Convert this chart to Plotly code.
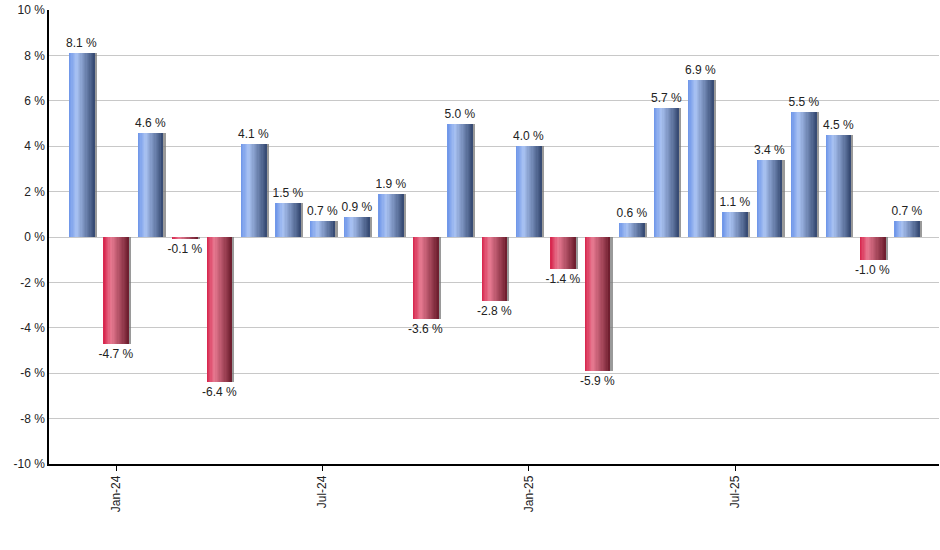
import plotly.graph_objects as go

months = ["Dec-23", "Jan-24", "Feb-24", "Mar-24", "Apr-24", "May-24", "Jun-24",
          "Jul-24", "Aug-24", "Sep-24", "Oct-24", "Nov-24", "Dec-24",
          "Jan-25", "Feb-25", "Mar-25", "Apr-25", "May-25", "Jun-25",
          "Jul-25", "Aug-25", "Sep-25", "Oct-25", "Nov-25", "Dec-25"]
returns = [8.1, -4.7, 4.6, -0.1, -6.4, 4.1, 1.5, 0.7, 0.9, 1.9, -3.6, 5.0, -2.8,
           4.0, -1.4, -5.9, 0.6, 5.7, 6.9, 1.1, 3.4, 5.5, 4.5, -1.0, 0.7]
tick_labels = ["Jan-24", "Jul-24", "Jan-25", "Jul-25"]
y_ticks = [-10, -8, -6, -4, -2, 0, 2, 4, 6, 8, 10]
y_tick_labels = ["%d %%" % v for v in y_ticks]

BAR_W = 0.74
N_STRIPS = 20

blue_stops = [(0.0, (108, 148, 232)), (0.3, (170, 195, 243)), (1.0, (52, 72, 112))]
red_stops = [(0.0, (214, 34, 74)), (0.3, (232, 122, 146)), (1.0, (108, 28, 44))]


def interp(stops, t):
    for (t0, c0), (t1, c1) in zip(stops[:-1], stops[1:]):
        if t <= t1:
            f = (t - t0) / (t1 - t0)
            return "rgb(%d,%d,%d)" % tuple(round(a + (b - a) * f) for a, b in zip(c0, c1))
    return "rgb(%d,%d,%d)" % stops[-1][1]


fig = go.Figure()

# shadow
fig.add_trace(go.Bar(
    x=months, y=returns, width=BAR_W, offset=-BAR_W / 2 + 0.07,
    marker=dict(color="rgba(120,120,120,0.75)", line=dict(width=0)),
    hoverinfo="skip", showlegend=False,
))

# gradient strips (each overlapping into the next, drawn left to right)
sw = BAR_W / N_STRIPS
for i in range(N_STRIPS):
    t = (i + 0.5) / N_STRIPS
    cb = interp(blue_stops, t)
    cr = interp(red_stops, t)
    w = sw * 2 if i < N_STRIPS - 1 else sw
    fig.add_trace(go.Bar(
        x=months, y=returns, width=w, offset=-BAR_W / 2 + i * sw,
        marker=dict(color=[cb if v >= 0 else cr for v in returns], line=dict(width=0)),
        hoverinfo="skip", showlegend=False,
    ))

# labels
fig.add_trace(go.Bar(
    x=months, y=returns, width=BAR_W, offset=-BAR_W / 2,
    marker=dict(color="rgba(0,0,0,0)", line=dict(width=0)),
    text=["%.1f %%" % v for v in returns], textposition="outside",
    constraintext="none",
    textfont=dict(family="Liberation Sans, Arial, sans-serif", size=12, color="#222222"),
    cliponaxis=False, showlegend=False, hoverinfo="skip",
))

fig.update_layout(
    width=940, height=550,
    margin=dict(l=49, r=1, t=10, b=86),
    barmode="overlay", bargap=0,
    plot_bgcolor="white", paper_bgcolor="white",
    font=dict(family="Liberation Sans, Arial, sans-serif", size=12, color="#222222"),
)
fig.update_xaxes(
    type="category", categoryorder="array", categoryarray=months,
    range=[-0.95, len(months) - 0.07],
    tickmode="array", tickvals=tick_labels, ticktext=tick_labels,
    tickangle=-90, ticks="outside", ticklen=5, tickcolor="black",
    showline=True, linecolor="black", linewidth=1.5, showgrid=False,
    tickfont=dict(size=12, color="#222222"),
)
fig.update_yaxes(
    range=[-10, 10], tickmode="array", tickvals=y_ticks, ticktext=y_tick_labels,
    ticklabeloverflow="allow",
    showline=True, linecolor="black", linewidth=1.5,
    showgrid=True, gridcolor="#c8c8c8", gridwidth=1, zeroline=False,
    ticks="", tickfont=dict(size=12, color="#222222"),
)

fig.write_html(
    "out.html",
    config={"displayModeBar": False},
    post_script="document.body.style.margin='0';document.body.style.overflow='hidden';",
)
